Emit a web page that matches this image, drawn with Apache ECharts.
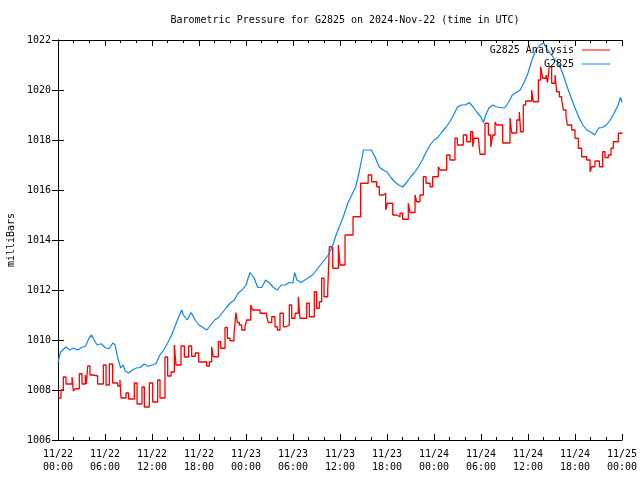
<!DOCTYPE html>
<html><head><meta charset="utf-8">
<script src="https://cdn.jsdelivr.net/npm/echarts@6/dist/echarts.min.js"></script>
<style>html,body{margin:0;padding:0;background:#fff}#c{width:640px;height:480px}</style>
</head><body><div id="c"></div>
<script>
const titleText = 'Barometric Pressure for G2825 on 2024-Nov-22 (time in UTC)';
const yAxisName = 'milliBars';
const xTickLabels = ['11/22\n00:00','11/22\n06:00','11/22\n12:00','11/22\n18:00','11/23\n00:00','11/23\n06:00','11/23\n12:00','11/23\n18:00','11/24\n00:00','11/24\n06:00','11/24\n12:00','11/24\n18:00','11/25\n00:00'];
const seriesNames = ['G2825 Analysis', 'G2825'];

// hours since 2024-11-22 00:00 UTC, value in mb (step: value holds until next time)
const analysisHours = [0,0.38,0.68,1.02,1.79,1.96,2.17,2.72,3.06,3.49,3.62,3.79,4.08,4.51,5.06,5.79,6.13,6.55,6.98,7.62,7.91,8.04,8.68,9.02,9.74,10.09,10.72,11.02,11.66,12.09,12.72,13.02,13.66,14.0,14.43,14.85,15.06,15.7,16.13,16.68,17.06,17.53,17.96,18.55,18.98,19.32,19.62,19.83,20.47,20.77,21.32,21.62,21.96,22.47,22.72,22.89,23.15,23.45,23.87,24.09,24.6,24.85,25.79,26.64,26.85,27.28,27.7,28.0,28.34,28.77,29.11,29.53,29.83,30.26,30.68,30.89,31.75,32.09,32.72,33.02,33.36,33.66,33.96,34.43,34.64,35.07,35.79,36.0,36.64,37.66,38.64,39.6,40.04,40.68,41.02,41.53,41.83,42.04,42.73,43.24,43.66,44.0,44.72,44.94,45.58,45.79,46.21,46.64,46.98,47.49,47.83,48.55,48.77,49.62,50.04,50.68,50.98,51.74,52.17,52.68,52.94,53.11,53.66,53.87,54.51,54.94,55.24,55.49,55.79,56.0,56.77,57.7,57.92,58.56,58.89,59.06,59.4,59.7,60.47,60.68,61.32,61.62,61.87,62.3,62.5,62.72,63.02,63.45,63.66,64.0,64.3,64.51,64.85,65.02,65.58,66.0,66.43,66.85,67.49,67.92,68.13,68.55,69.11,69.53,69.83,70.26,70.6,70.89,71.53,72];
const analysisValues = [1007.68,1008.0,1008.52,1008.24,1008.52,1007.95,1008.05,1008.65,1008.24,1008.6,1008.24,1008.96,1008.6,1008.56,1008.24,1009.0,1008.2,1009.04,1008.28,1008.16,1008.4,1007.68,1007.88,1007.64,1008.28,1007.44,1008.12,1007.32,1008.28,1007.52,1008.4,1007.68,1009.32,1008.56,1008.72,1009.8,1009.0,1009.76,1009.32,1009.76,1009.35,1009.48,1009.12,1009.13,1008.96,1009.13,1009.73,1009.33,1009.93,1009.67,1010.5,1010.07,1009.97,1010.27,1011.1,1010.7,1010.6,1010.4,1010.53,1010.8,1011.4,1011.2,1011.07,1010.93,1010.7,1010.93,1010.53,1010.4,1011.07,1010.53,1010.6,1011.4,1010.87,1011.07,1011.73,1010.87,1011.47,1010.93,1011.93,1011.27,1011.53,1012.47,1011.73,1012.0,1013.73,1012.87,1013.8,1013.0,1014.2,1014.93,1016.27,1016.6,1016.33,1016.13,1015.8,1015.87,1015.2,1015.47,1015.0,1014.93,1015.07,1014.83,1015.47,1015.1,1015.8,1015.53,1015.8,1016.53,1016.27,1016.13,1016.53,1016.93,1016.8,1017.4,1017.2,1018.07,1017.8,1018.2,1017.93,1018.33,1017.73,1018.07,1018.13,1017.43,1018.67,1018.2,1017.72,1018.2,1018.72,1018.6,1017.88,1018.88,1018.28,1018.8,1019.12,1018.33,1019.4,1019.56,1020.0,1019.53,1020.4,1020.93,1020.47,1020.6,1020.3,1020.93,1020.27,1020.6,1019.93,1019.73,1019.6,1019.2,1018.93,1018.6,1018.4,1018.07,1017.67,1017.33,1017.2,1016.73,1016.93,1017.16,1016.93,1017.53,1017.3,1017.4,1017.67,1017.93,1018.27,1018.3];

const sensorHours = [0,0.3,0.6,1,1.5,2,2.5,3,3.5,4,4.3,4.6,5,5.5,6,6.5,7,7.3,7.6,8,8.3,8.6,9,9.5,10,10.5,11,11.5,12,12.5,13,13.5,14,14.5,15,15.5,15.8,16,16.5,17,17.5,18,18.5,19,19.5,20,20.5,21,21.5,22,22.5,23,23.5,24,24.5,25,25.5,26,26.5,27,27.5,28,28.5,29,29.5,30,30.2,30.5,31,31.5,32,32.5,33,33.5,34,34.5,35,35.5,36,36.5,37,37.5,38,38.5,39,39.5,40,40.5,41,41.5,42,42.5,43,43.5,44,44.5,45,45.5,46,46.5,47,47.5,48,48.5,49,49.5,50,50.5,51,51.5,52,52.5,53,53.5,54,54.3,54.6,55,55.5,56,56.5,57,57.5,58,58.5,59,59.5,60,60.5,61,61.5,62,62.5,63,63.5,64,64.5,65,65.5,66,66.5,67,67.5,68,68.5,69,69.5,70,70.5,71,71.5,71.8,72];
const sensorValues = [1009.1,1009.5,1009.6,1009.72,1009.6,1009.68,1009.6,1009.7,1009.75,1010.1,1010.2,1010.0,1009.8,1009.85,1009.7,1009.65,1009.88,1009.8,1009.3,1008.88,1009.0,1008.75,1008.68,1008.8,1008.88,1008.9,1009.04,1008.95,1009.0,1009.05,1009.4,1009.6,1009.88,1010.2,1010.6,1011.0,1011.2,1011.0,1010.8,1011.1,1010.8,1010.6,1010.5,1010.4,1010.6,1010.8,1010.9,1011.1,1011.3,1011.48,1011.6,1011.88,1012.0,1012.2,1012.7,1012.5,1012.1,1012.1,1012.4,1012.28,1012.1,1012.0,1012.2,1012.2,1012.3,1012.28,1012.7,1012.4,1012.3,1012.4,1012.5,1012.6,1012.8,1013.0,1013.2,1013.4,1013.72,1014.2,1014.6,1015.0,1015.48,1015.8,1016.12,1016.8,1017.6,1017.6,1017.6,1017.3,1016.92,1016.8,1016.72,1016.5,1016.32,1016.2,1016.12,1016.3,1016.52,1016.7,1016.92,1017.2,1017.52,1017.8,1018.0,1018.1,1018.32,1018.5,1018.72,1019.0,1019.32,1019.4,1019.4,1019.5,1019.32,1019.1,1018.92,1018.7,1019.0,1019.28,1019.4,1019.32,1019.3,1019.28,1019.5,1019.8,1019.9,1020.0,1020.3,1020.68,1021.2,1021.6,1021.8,1021.88,1021.6,1021.4,1021.2,1021.0,1020.6,1020.12,1019.7,1019.28,1018.9,1018.6,1018.4,1018.32,1018.2,1018.48,1018.5,1018.6,1018.8,1019.08,1019.4,1019.7,1019.5];

const FONT = "'DejaVu Sans Mono', monospace";
const chart = echarts.init(document.getElementById('c'), null, {renderer: 'canvas'});

function xAxisCfg(pos, showLabel) {
  return {
    type: 'value', position: pos, min: 0, max: 72, interval: 6,
    axisLine: {show: true, lineStyle: {color: '#000', width: 1}},
    axisTick: {show: true, inside: true, length: 6, lineStyle: {color: '#000'}},
    minorTick: {show: true, splitNumber: 3, length: 3, lineStyle: {color: '#000'}},
    splitLine: {show: false}, minorSplitLine: {show: false},
    axisLabel: {show: showLabel, color: '#000', fontFamily: FONT, fontSize: 10, margin: 8, lineHeight: 13,
      formatter: v => xTickLabels[Math.round(v / 6)]}
  };
}
function yAxisCfg(pos, showLabel) {
  return {
    type: 'value', position: pos, min: 1006, max: 1022, interval: 2,
    axisLine: {show: true, lineStyle: {color: '#000', width: 1}},
    axisTick: {show: true, inside: true, length: 6, lineStyle: {color: '#000'}},
    splitLine: {show: false},
    axisLabel: {show: showLabel, color: '#000', fontFamily: FONT, fontSize: 10, margin: 7,
      formatter: v => String(v)},
    name: showLabel ? yAxisName : '', nameLocation: 'middle', nameRotate: 90, nameGap: 40,
    nameTextStyle: {color: '#000', fontFamily: FONT, fontSize: 10}
  };
}

const legendBase = {
  orient: 'vertical', right: 30, align: 'right', icon: 'rect', itemWidth: 28, itemHeight: 1,
  padding: 0, textStyle: {color: '#000', fontFamily: FONT, fontSize: 10, padding: [0, 3, 0, 0]}
};

chart.setOption({
  animation: false,
  backgroundColor: '#fff',
  title: {text: titleText, left: 340, top: 10, textAlign: 'center',
    textStyle: {color: '#000', fontFamily: FONT, fontSize: 10, fontWeight: 'normal'}},
  grid: {left: 58, right: 18, top: 40, bottom: 40, containLabel: false, outerBoundsMode: 'none'},
  legend: [
    Object.assign({}, legendBase, {data: [seriesNames[0]], top: 45}),
    Object.assign({}, legendBase, {data: [seriesNames[1]], top: 59})
  ],
  xAxis: [xAxisCfg('bottom', true), xAxisCfg('top', false)],
  yAxis: [yAxisCfg('left', true), yAxisCfg('right', false)],
  series: [
    {name: seriesNames[0], type: 'line', step: 'end', showSymbol: false, symbol: 'none',
     xAxisIndex: 0, yAxisIndex: 0, color: '#ff0000', lineStyle: {color: '#ff0000', width: 1.3},
     data: analysisHours.map((h, i) => [h, analysisValues[i]])},
    {name: seriesNames[1], type: 'line', showSymbol: false, symbol: 'none',
     xAxisIndex: 0, yAxisIndex: 0, color: '#0f84ff', lineStyle: {color: '#0f84ff', width: 1.2},
     data: sensorHours.map((h, i) => [h, sensorValues[i]])}
  ]
});
</script>
</body></html>
